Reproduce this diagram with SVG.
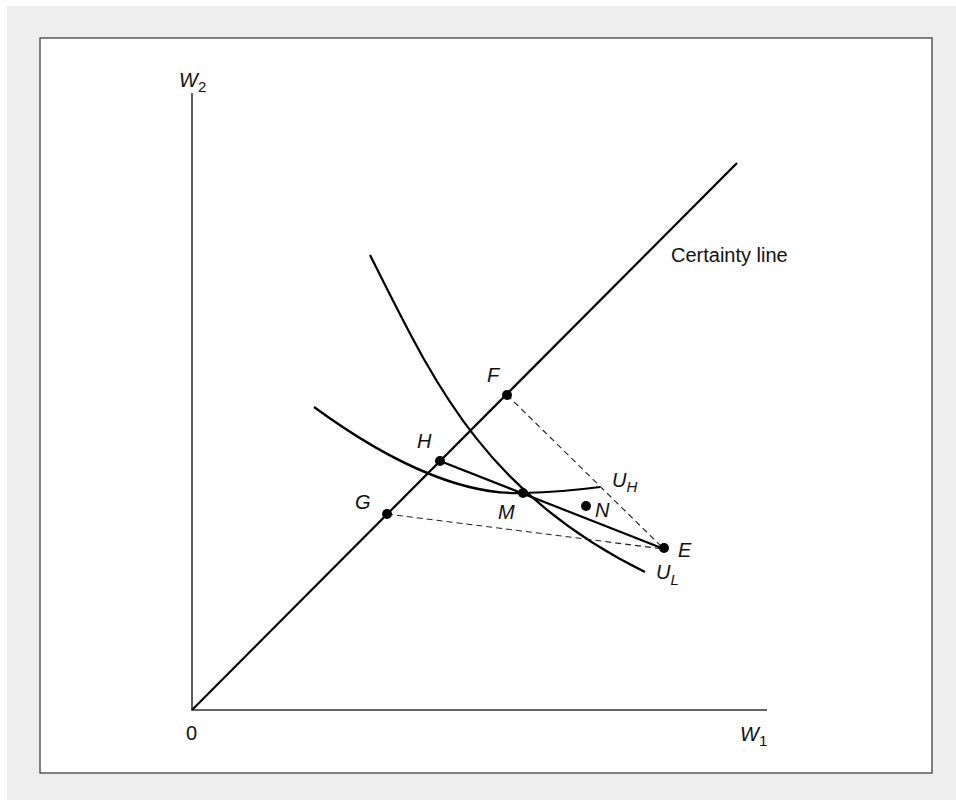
<svg xmlns="http://www.w3.org/2000/svg" width="956" height="800" viewBox="0 0 956 800">
<style>
.lbl{font-family:"Liberation Sans",Arial,sans-serif;font-style:italic;font-size:20px;fill:#111}
.sub{font-size:15px}
.num{font-style:normal}
.txt{font-family:"Liberation Sans",Arial,sans-serif;font-size:20px;fill:#111}
.axis{stroke:#333;stroke-width:1.6;fill:none}
.curve{stroke:#000;stroke-width:2.2;fill:none}
.dash{stroke:#222;stroke-width:1.1;stroke-dasharray:6,4;fill:none}
.dot{fill:#000}
</style>
<rect x="0" y="0" width="956" height="800" fill="#ffffff"/>
<rect x="7" y="6" width="949" height="794" fill="#eeeeee"/>
<rect x="40" y="38" width="892" height="735" fill="#ffffff" stroke="#333" stroke-width="1.2"/>
<g id="axes">
<path class="axis" d="M192,93 L192,710 L767,710"/>
<text class="lbl" x="179" y="87" font-size="21">W<tspan class="sub num" dy="5">2</tspan></text>
<text class="lbl" x="740" y="741" font-size="21">W<tspan class="sub num" dy="5">1</tspan></text>
<text class="txt" x="186" y="740">0</text>
</g>
<g id="certainty-line">
<path class="curve" d="M192,710 L737,163"/>
<text class="txt" x="671" y="262" font-size="22">Certainty line</text>
</g>
<g id="U_H">
<path class="curve" d="M314,407 C400,470 470,495 523,493 C560,492 585,489 600,487"/>
<text class="lbl" x="612" y="487">U<tspan class="sub" dy="5">H</tspan></text>
</g>
<g id="U_L">
<path class="curve" d="M370,255 C432,378 482,492 645,572"/>
<text class="lbl" x="656" y="579">U<tspan class="sub" dy="6">L</tspan></text>
</g>
<g id="connectors">
<path class="curve" d="M440,461 L664,549"/>
<path class="dash" d="M507,395 L664,549"/>
<path class="dash" d="M387,514 L664,549"/>
</g>
<g id="F"><circle class="dot" cx="507" cy="395" r="5"/><text class="lbl" x="487" y="382">F</text></g>
<g id="H"><circle class="dot" cx="440" cy="461" r="5"/><text class="lbl" x="417" y="448">H</text></g>
<g id="G"><circle class="dot" cx="387" cy="514" r="5"/><text class="lbl" x="355" y="509">G</text></g>
<g id="M"><circle class="dot" cx="523" cy="493" r="5"/><text class="lbl" x="498" y="519">M</text></g>
<g id="N"><circle class="dot" cx="586" cy="506" r="5"/><text class="lbl" x="595" y="517">N</text></g>
<g id="E"><circle class="dot" cx="664" cy="548" r="5"/><text class="lbl" x="678" y="557">E</text></g>
</svg>
